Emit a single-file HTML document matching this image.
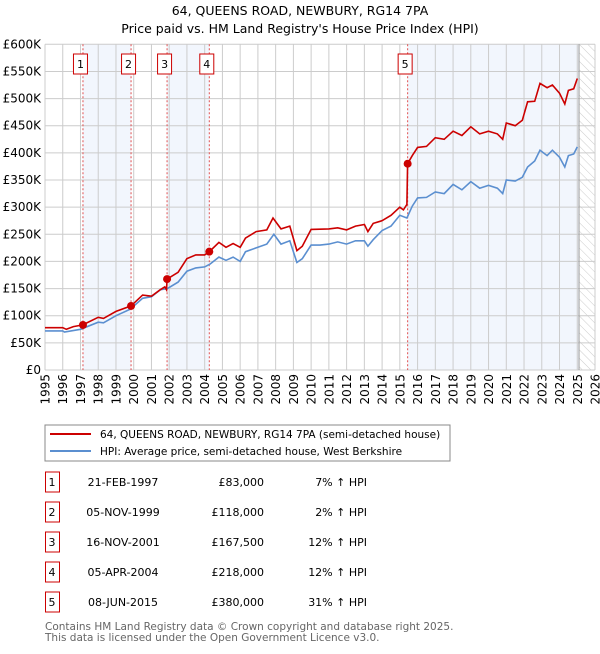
<!DOCTYPE html>
<html><head><meta charset="utf-8"><style>
body{margin:0;background:#fff;font-family:"DejaVu Sans","Liberation Sans",sans-serif;}
svg text{font-family:"DejaVu Sans","Liberation Sans",sans-serif;}
</style></head><body>
<svg id="c" width="600" height="650" xmlns="http://www.w3.org/2000/svg">
<defs><pattern id="hatch" width="6" height="6" patternUnits="userSpaceOnUse" patternTransform="rotate(-45)"><line x1="0" y1="0" x2="0" y2="6" stroke="#ccc" stroke-width="1"/></pattern></defs>
<text x="300" y="15" text-anchor="middle" font-size="12.5">64, QUEENS ROAD, NEWBURY, RG14 7PA</text>
<text x="300" y="33" text-anchor="middle" font-size="12.5">Price paid vs. HM Land Registry's House Price Index (HPI)</text>
<g id="plot"></g>
<g>
<rect x="45" y="425" width="405" height="36" fill="#fff" stroke="#888"/>
<line x1="50" y1="434" x2="91" y2="434" stroke="#cc0000" stroke-width="2"/>
<text x="100" y="438" font-size="10.5">64, QUEENS ROAD, NEWBURY, RG14 7PA (semi-detached house)</text>
<line x1="50" y1="451" x2="91" y2="451" stroke="#5b8fd0" stroke-width="2"/>
<text x="100" y="455" font-size="10.5">HPI: Average price, semi-detached house, West Berkshire</text>
</g>
<g id="table"></g>
<text x="45" y="630" font-size="10.5" fill="#666">Contains HM Land Registry data © Crown copyright and database right 2025.</text>
<text x="45" y="641" font-size="10.5" fill="#666">This data is licensed under the Open Government Licence v3.0.</text>
</svg>
<script>
const hpiYears=[1995,1996,1996.1,1997,1998,1998.3,1999,1999.8,2000.5,2001,2001.5,2001.9,2002.5,2003,2003.5,2004,2004.3,2004.8,2005.2,2005.6,2006,2006.3,2006.9,2007.5,2007.9,2008.3,2008.8,2009.2,2009.5,2010,2010.5,2011,2011.5,2012,2012.5,2013,2013.2,2013.5,2014,2014.5,2015,2015.4,2015.7,2016,2016.5,2017,2017.5,2018,2018.5,2019,2019.5,2020,2020.5,2020.8,2021,2021.5,2021.9,2022.2,2022.6,2022.9,2023.3,2023.6,2024,2024.3,2024.5,2024.8,2025];
const hpiValues=[72,72,70,75,88,87,100,112,132,135,148,150,162,182,188,190,195,208,202,208,200,218,225,232,250,232,238,198,205,230,230,232,236,232,238,238,228,240,257,265,285,280,302,317,318,328,325,342,332,347,335,340,335,325,350,348,355,374,385,405,395,405,392,374,395,398,411];
const ppYears=[1995,1996,1996.2,1996.6,1997.13,1998,1998.3,1999,1999.85,2000.5,2001,2001.5,2001.75,2001.85,2001.88,2002.5,2003,2003.5,2004,2004.26,2004.8,2005.2,2005.6,2006,2006.3,2006.9,2007.5,2007.85,2008.3,2008.8,2009.2,2009.5,2010,2011,2011.5,2012,2012.5,2013,2013.2,2013.5,2014,2014.5,2015,2015.2,2015.4,2015.44,2015.7,2016,2016.5,2017,2017.5,2018,2018.5,2019,2019.5,2020,2020.5,2020.8,2021,2021.5,2021.9,2022.2,2022.6,2022.9,2023.3,2023.6,2024,2024.3,2024.5,2024.8,2025];
const ppValues=[78,78,75,80,83,97,95,108,118,138,136,148,153,148,167.5,180,205,212,212,218,235,226,233,226,243,255,258,280,260,265,220,228,259,260,262,258,265,268,255,270,275,285,300,295,305,380,395,410,412,428,425,440,432,448,435,440,435,425,455,450,460,494,495,528,520,525,510,490,515,518,537];
const saleYears=[1997.14,1999.85,2001.88,2004.26,2015.44];
const saleValues=[83,118,167.5,218,380];
const saleDates=["21-FEB-1997","05-NOV-1999","16-NOV-2001","05-APR-2004","08-JUN-2015"];
const salePrices=["£83,000","£118,000","£167,500","£218,000","£380,000"];
const saleHpi=["7% ↑ HPI","2% ↑ HPI","12% ↑ HPI","12% ↑ HPI","31% ↑ HPI"];
const yTicks=[0,50,100,150,200,250,300,350,400,450,500,550,600];
const yTickLabels=["£0","£50K","£100K","£150K","£200K","£250K","£300K","£350K","£400K","£450K","£500K","£550K","£600K"];
const xTicks=[1995,1996,1997,1998,1999,2000,2001,2002,2003,2004,2005,2006,2007,2008,2009,2010,2011,2012,2013,2014,2015,2016,2017,2018,2019,2020,2021,2022,2023,2024,2025,2026];
const dataEnd=2025.1;

const L=45,R=595,T=44.3,B=370;
const X=y=>L+(y-1995)*(R-L)/31;
const Y=v=>B-v*(B-T)/600;
const NS="http://www.w3.org/2000/svg";
const plot=document.getElementById('plot');
function mk(tag,attrs,parent){const e=document.createElementNS(NS,tag);for(const k in attrs)e.setAttribute(k,attrs[k]);(parent||plot).appendChild(e);return e;}

const bands=[[0,1],[2,3]];
bands.forEach((b,i)=>{const r=mk('rect',{x:X(saleYears[b[0]]),y:T,width:X(saleYears[b[1]])-X(saleYears[b[0]]),height:B-T,fill:'#eef3fc',opacity:0.75});

});
const b5=mk('rect',{x:X(saleYears[4]),y:T,width:X(dataEnd)-X(saleYears[4]),height:B-T,fill:'#eef3fc',opacity:0.75});


const hz=mk('rect',{x:X(dataEnd),y:T,width:R-X(dataEnd),height:B-T,fill:'url(#hatch)'});



yTicks.forEach((v,i)=>{const g=mk('line',{x1:L,x2:R,y1:Y(v),y2:Y(v),stroke:'#ccc','stroke-width':1});


const t=mk('text',{x:L-4,y:Y(v)+4,'text-anchor':'end','font-size':12});t.textContent=yTickLabels[i];

});
xTicks.forEach(yr=>{const g=mk('line',{x1:X(yr),x2:X(yr),y1:T,y2:B,stroke:'#ccc','stroke-width':1});


const tx=X(yr)+4.5, ty=B+4;
const t=mk('text',{x:tx,y:ty,'text-anchor':'end','font-size':12,transform:'rotate(-90 '+tx+' '+ty+')'});t.textContent=yr;

});
const ed=mk('line',{x1:X(dataEnd),x2:X(dataEnd),y1:T,y2:B,stroke:'#999','stroke-width':1});



saleYears.forEach((yr,i)=>{const l=mk('line',{x1:X(yr),x2:X(yr),y1:T,y2:B,stroke:'#e05050','stroke-width':1,'stroke-dasharray':'2,2'});


const bx=mk('rect',{x:X(yr)-9.5,y:54,width:14,height:20,fill:'#fff',stroke:'#cc0000'});


const t=mk('text',{x:X(yr)-2.5,y:68,'text-anchor':'middle','font-size':11});t.textContent=i+1;

});

function path(xs,vs){return xs.map((x,i)=>(i?'L':'M')+X(x).toFixed(1)+','+Y(vs[i]).toFixed(1)).join('');}
const hl=mk('path',{d:path(hpiYears,hpiValues),fill:'none',stroke:'#5b8fd0','stroke-width':1.6});


const pl=mk('path',{d:path(ppYears,ppValues),fill:'none',stroke:'#cc0000','stroke-width':1.6});


saleYears.forEach((yr,i)=>{const c=mk('circle',{cx:X(yr),cy:Y(saleValues[i]),r:4,fill:'#cc0000'});

});

const tb=document.getElementById('table');
saleDates.forEach((d,i)=>{const y=483+i*30;
const bx=mk('rect',{x:45.5,y:y-11,width:14,height:20,fill:'#fff',stroke:'#cc0000'},tb);


const vals=[[52,String(i+1),'middle'],[123,d,'middle'],[264,salePrices[i],'end'],[367,saleHpi[i],'end']];
vals.forEach(v=>{const t=mk('text',{x:v[0],y:y+3,'text-anchor':v[2],'font-size':11},tb);t.textContent=v[1];

});});
</script>
</body></html>
